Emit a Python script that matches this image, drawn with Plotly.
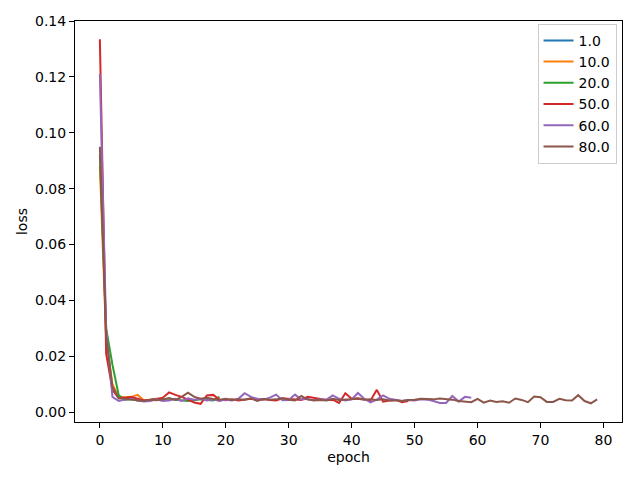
import plotly.graph_objects as go

labels = ["1.0", "10.0", "20.0", "50.0", "60.0", "80.0"]
colors = ["#1f77b4", "#ff7f0e", "#2ca02c", "#d62728", "#9467bd", "#8c564b"]

loss_1 = [0.094]

loss_10 = [0.088, 0.026, 0.010, 0.0055, 0.0054, 0.0055, 0.0062, 0.0042, 0.0044, 0.0047]

loss_20 = [0.092, 0.030, 0.017, 0.006, 0.0045, 0.0046, 0.0042, 0.0040, 0.0044, 0.0048,
           0.0046, 0.0050, 0.0045, 0.0042, 0.0040, 0.0043, 0.0046, 0.0044, 0.0042, 0.0055]

loss_50 = [0.1335, 0.021, 0.008, 0.005, 0.0052, 0.0054, 0.0048, 0.0042, 0.0045, 0.0047,
           0.0052, 0.0071, 0.0062, 0.0055, 0.0045, 0.0035, 0.0030, 0.0060, 0.0062, 0.0045,
           0.0043, 0.0046, 0.0042, 0.0045, 0.0048, 0.0045, 0.0047, 0.0044, 0.0042, 0.0050,
           0.0048, 0.0045, 0.0044, 0.0055, 0.0052, 0.0048, 0.0044, 0.0045, 0.0033, 0.0068,
           0.0048, 0.0050, 0.0046, 0.0042, 0.0080, 0.0038, 0.0042, 0.0044, 0.0036, 0.0040]

loss_60 = [0.121, 0.030, 0.0055, 0.0040, 0.0045, 0.0048, 0.0042, 0.0038, 0.0040, 0.0046,
           0.0040, 0.0042, 0.0048, 0.0040, 0.0050, 0.0045, 0.0048, 0.0042, 0.0046, 0.0040,
           0.0045, 0.0042, 0.0048, 0.0068, 0.0055, 0.0048, 0.0045, 0.0052, 0.0063, 0.0043,
           0.0044, 0.0063, 0.0045, 0.0048, 0.0042, 0.0046, 0.0045, 0.0060, 0.0048, 0.0042,
           0.0046, 0.0069, 0.0048, 0.0035, 0.0045, 0.0060, 0.0048, 0.0043, 0.0040, 0.0044,
           0.0042, 0.0046, 0.0045, 0.0040, 0.0033, 0.0033, 0.0058, 0.0038, 0.0055, 0.0052]

loss_80 = [0.095, 0.027, 0.009, 0.005, 0.0048, 0.0046, 0.0044, 0.0040, 0.0045, 0.0043,
           0.0046, 0.0050, 0.0044, 0.0055, 0.0070, 0.0055, 0.0048, 0.0052, 0.0047, 0.0045,
           0.0048, 0.0044, 0.0046, 0.0045, 0.0050, 0.0040, 0.0047, 0.0045, 0.0046, 0.0050,
           0.0045, 0.0042, 0.0058, 0.0045, 0.0043, 0.0044, 0.0042, 0.0048, 0.0044, 0.0045,
           0.0046, 0.0048, 0.0045, 0.0046, 0.0044, 0.0046, 0.0042, 0.0043, 0.0040, 0.0044,
           0.0045, 0.0048, 0.0047, 0.0046, 0.0049, 0.0048, 0.0045, 0.0040, 0.0037, 0.0036,
           0.0048, 0.0034, 0.0042, 0.0037, 0.0039, 0.0034, 0.0049, 0.0044, 0.0036, 0.0056,
           0.0054, 0.0037, 0.0037, 0.0048, 0.0043, 0.0042, 0.0061, 0.0040, 0.0032, 0.0046]

series = [loss_1, loss_10, loss_20, loss_50, loss_60, loss_80]

fig = go.Figure()
for name, color, ys in zip(labels, colors, series):
    fig.add_trace(go.Scatter(x=list(range(len(ys))), y=ys, name=name,
                             mode="lines", line=dict(color=color, width=2)))

axis_style = dict(showline=True, linecolor="black", linewidth=1, mirror=True,
                  ticks="outside", ticklen=5, tickcolor="black", showgrid=False,
                  zeroline=False, automargin=False,
                  tickfont=dict(size=14, color="black"))

fig.update_xaxes(range=[-3.95, 82.95], dtick=10, tick0=0,
                 title=dict(text="epoch", font=dict(size=14, color="black"), standoff=5),
                 **axis_style)
fig.update_yaxes(range=[-0.0035, 0.140], dtick=0.02, tick0=0, tickformat=".2f",
                 title=dict(text="loss", font=dict(size=14, color="black"), standoff=4),
                 **axis_style)

# the page has an 8px body margin, so the figure is shrunk by that much
fig.update_layout(
    width=632, height=472,
    margin=dict(l=67, r=18, t=13, b=58, autoexpand=False),
    paper_bgcolor="white", plot_bgcolor="white",
    font=dict(family="DejaVu Sans", size=14, color="black"),
    legend=dict(x=0.99, y=0.993, xanchor="right", yanchor="top",
                bordercolor="#cccccc", borderwidth=1, bgcolor="rgba(255,255,255,0.8)",
                itemwidth=30, font=dict(size=14)),
)

fig.write_html("out.html")
